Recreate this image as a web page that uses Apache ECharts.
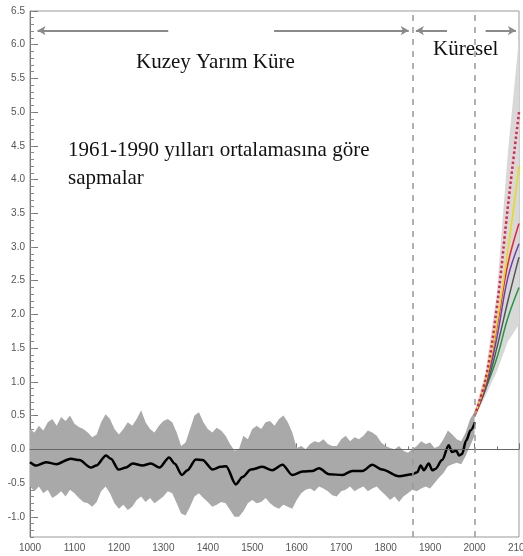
<!DOCTYPE html>
<html>
<head>
<meta charset="utf-8">
<script src="https://cdn.jsdelivr.net/npm/echarts@6/dist/echarts.min.js"></script>
<style>
  html, body { margin: 0; padding: 0; background: #fff; }
  #chart { width: 523px; height: 556px; }
</style>
</head>
<body>
<div id="chart"></div>
<script>
// axis ticks
var xTickLabels = [1000, 1100, 1200, 1300, 1400, 1500, 1600, 1700, 1800, 1900, 2000, 2100];
var yTickLabels = [-1.0, -0.5, 0.0, 0.5, 1.0, 1.5, 2.0, 2.5, 3.0, 3.5, 4.0, 4.5, 5.0, 5.5, 6.0, 6.5];

// proxy + instrumental band (1000..2000, every 10 years)
var bandUpper = [
  0.30, 0.25, 0.35, 0.28, 0.40, 0.45, 0.35, 0.48, 0.42, 0.50,
  0.38, 0.33, 0.30, 0.25, 0.18, 0.22, 0.40, 0.52, 0.45, 0.30,
  0.22, 0.30, 0.40, 0.35, 0.45, 0.58, 0.40, 0.30, 0.25, 0.35,
  0.42, 0.45, 0.40, 0.25, 0.05, 0.10, 0.30, 0.50, 0.55, 0.40,
  0.30, 0.25, 0.32, 0.28, 0.20, 0.08, -0.02, 0.00, 0.20, 0.15,
  0.30, 0.35, 0.30, 0.40, 0.42, 0.35, 0.45, 0.50, 0.40, 0.25,
  0.02, 0.05, 0.00, 0.08, 0.12, 0.10, 0.15, 0.08, 0.05, 0.05,
  0.15, 0.20, 0.12, 0.18, 0.15, 0.20, 0.28, 0.25, 0.20, 0.10,
  0.05, 0.02, 0.00, 0.05, -0.02, -0.05, 0.00, 0.05, 0.12, 0.08,
  0.10, 0.02, 0.05, 0.15, 0.28, 0.22, 0.15, 0.12, 0.25, 0.45,
  0.55
];
var bandLower = [
  -0.55, -0.62, -0.55, -0.65, -0.60, -0.72, -0.68, -0.62, -0.70, -0.60,
  -0.65, -0.72, -0.78, -0.80, -0.85, -0.78, -0.62, -0.55, -0.65, -0.80,
  -0.88, -0.82, -0.90, -0.85, -0.75, -0.70, -0.78, -0.72, -0.80, -0.75,
  -0.70, -0.62, -0.65, -0.80, -0.95, -0.98, -0.85, -0.70, -0.65, -0.72,
  -0.78, -0.85, -0.82, -0.78, -0.80, -0.90, -1.00, -1.00, -0.92, -0.80,
  -0.75, -0.80, -0.78, -0.72, -0.80, -0.85, -0.88, -0.82, -0.85, -0.88,
  -0.75, -0.65, -0.60, -0.58, -0.62, -0.55, -0.58, -0.62, -0.68, -0.70,
  -0.62, -0.60, -0.55, -0.62, -0.58, -0.55, -0.62, -0.58, -0.55, -0.62,
  -0.68, -0.75, -0.70, -0.78, -0.70, -0.65, -0.60, -0.62, -0.58, -0.55,
  -0.58, -0.50, -0.42, -0.35, -0.25, -0.22, -0.20, -0.22, -0.10, 0.05,
  0.20
];
var bandYears = [];
for (var yr = 1000; yr <= 2000; yr += 10) bandYears.push(yr);

// smoothed reconstruction / instrumental mean
var meanYears = [1000, 1014, 1036, 1059, 1092, 1111, 1137, 1149, 1171, 1182, 1199, 1216, 1231, 1253, 1272, 1291,
  1313, 1325, 1342, 1354, 1373, 1388, 1411, 1429, 1441, 1463, 1478, 1497, 1523, 1545, 1568, 1590, 1613, 1635,
  1650, 1673, 1703, 1725, 1748, 1770, 1792, 1830, 1860, 1871, 1879, 1886, 1897, 1905, 1912, 1927, 1942, 1949,
  1959, 1965, 1972, 1981, 1991, 2001];
var meanValues = [-0.19, -0.24, -0.19, -0.22, -0.14, -0.16, -0.27, -0.24, -0.09, -0.14, -0.30, -0.27, -0.21, -0.24, -0.21, -0.27,
  -0.12, -0.21, -0.38, -0.31, -0.15, -0.16, -0.30, -0.26, -0.25, -0.52, -0.41, -0.30, -0.26, -0.31, -0.23, -0.38, -0.33, -0.32,
  -0.28, -0.37, -0.38, -0.32, -0.32, -0.23, -0.30, -0.40, -0.37, -0.34, -0.24, -0.31, -0.21, -0.31, -0.29, -0.16, 0.06, -0.04,
  -0.02, -0.09, -0.07, 0.13, 0.28, 0.40];

// projections 2000..2100
var projYears = [2000, 2025, 2050, 2075, 2100];
var fanUpper = [0.55, 1.15, 2.3, 4.4, 6.1];
var fanLower = [0.45, 0.8, 1.15, 1.6, 1.85];
var projA1FI = [0.5, 1.05, 2.1, 3.6, 5.0];
var projA2 = [0.5, 1.0, 1.85, 2.95, 4.2];
var projA1B = [0.5, 1.0, 1.8, 2.75, 3.35];
var projB2 = [0.5, 0.95, 1.65, 2.55, 3.05];
var projA1T = [0.5, 0.9, 1.5, 2.2, 2.85];
var projB1 = [0.5, 0.9, 1.35, 1.95, 2.4];

// annotations
var dashedYears = [1860, 2000];
var arrowLevel = 6.21;
var arrowSpans = [[1311, 1017], [1549, 1852], [1938, 1868], [2025, 2093]];

var yMinorTicks = [];
for (var t = -13; t <= 65; t++) yMinorTicks.push(t / 10);

function pairs(xs, ys) {
  return xs.map(function (x, i) { return [x, ys[i]]; });
}

function bandSeries(xs, up, low, color) {
  return {
    type: 'custom',
    silent: true,
    data: [[1500, 0]],
    encode: { x: 0, y: 1 },
    z: 1,
    renderItem: function (params, api) {
      var pts = [];
      for (var i = 0; i < xs.length; i++) pts.push(api.coord([xs[i], up[i]]));
      for (var j = xs.length - 1; j >= 0; j--) pts.push(api.coord([xs[j], low[j]]));
      return { type: 'polygon', shape: { points: pts }, style: { fill: color } };
    }
  };
}

function projLine(vals, color, type, width) {
  return {
    type: 'line',
    data: pairs(projYears, vals),
    showSymbol: false,
    smooth: 0.4,
    z: 4,
    lineStyle: { color: color, width: width, type: type }
  };
}

var markLines = [{ yAxis: 0, lineStyle: { color: '#666', width: 1, type: 'solid' } }];
dashedYears.forEach(function (d) {
  markLines.push({ xAxis: d, lineStyle: { color: '#999', width: 1.5, type: [6, 6] } });
});
arrowSpans.forEach(function (s) {
  markLines.push([
    { coord: [s[0], arrowLevel], symbol: 'none', lineStyle: { color: '#8a8a8a', width: 2, type: 'solid' } },
    { coord: [s[1], arrowLevel], symbol: 'arrow', symbolSize: [7, 8] }
  ]);
});

var dom = document.getElementById('chart');
var myChart = echarts.init(dom);
var option = {
  animation: false,
  grid: {
    left: 30, right: 4, top: 11, bottom: 19, show: true, borderColor: '#999', borderWidth: 1,
    outerBoundsMode: 'none', containLabel: false
  },
  xAxis: {
    type: 'value', min: 1000, max: 2100, interval: 100,
    axisLine: { lineStyle: { color: '#777' } },
    axisTick: { inside: true, length: 6, lineStyle: { color: '#777' } },
    minorTick: { show: true, splitNumber: 2, length: 3, lineStyle: { color: '#777' } },
    splitLine: { show: false },
    axisLabel: {
      color: '#555', fontSize: 10, fontFamily: 'Liberation Sans', margin: 6,
      customValues: xTickLabels,
      formatter: function (v) { return String(v); }
    }
  },
  yAxis: [{
    type: 'value', min: -1.3, max: 6.5,
    axisLine: { show: true, lineStyle: { color: '#777' } },
    axisTick: { inside: true, length: 8, customValues: yTickLabels, lineStyle: { color: '#777' } },
    splitLine: { show: false },
    axisLabel: {
      color: '#555', fontSize: 10, fontFamily: 'Liberation Sans', margin: 5,
      customValues: yTickLabels,
      formatter: function (v) { return v.toFixed(1); }
    }
  }, {
    type: 'value', min: -1.3, max: 6.5, position: 'left', offset: 0,
    axisLine: { show: false },
    axisTick: { inside: true, length: 4, customValues: yMinorTicks, lineStyle: { color: '#888' } },
    axisLabel: { show: false },
    splitLine: { show: false }
  }],
  graphic: [
    { type: 'text', left: 136, top: 52, style: { text: 'Kuzey Yarım Küre', font: '21px "Liberation Serif"', fill: '#111' } },
    { type: 'text', left: 433, top: 39, style: { text: 'Küresel', font: '21px "Liberation Serif"', fill: '#111' } },
    { type: 'text', left: 68, top: 140, style: { text: '1961-1990 yılları ortalamasına göre', font: '21px "Liberation Serif"', fill: '#111' } },
    { type: 'text', left: 68, top: 168, style: { text: 'sapmalar', font: '21px "Liberation Serif"', fill: '#111' } }
  ],
  series: [
    bandSeries(projYears, fanUpper, fanLower, '#d8d8d8'),
    bandSeries(bandYears, bandUpper, bandLower, '#a9a9a9'),
    {
      type: 'line',
      data: pairs(meanYears, meanValues),
      showSymbol: false,
      smooth: 0.3,
      smoothMonotone: 'x',
      z: 3,
      lineStyle: { color: '#000', width: 2.5 },
      markLine: { silent: true, symbol: 'none', label: { show: false }, data: markLines }
    },
    projLine(projB1, '#1f9a3c', 'solid', 1.5),
    projLine(projA1T, '#555555', 'solid', 1.5),
    projLine(projB2, '#6b3fb0', 'solid', 1.5),
    projLine(projA1B, '#e8203a', 'solid', 1.5),
    projLine(projA2, '#e6dc10', 'solid', 1.5),
    projLine(projA1FI, '#e8204a', 'dotted', 2.5)
  ]
};
myChart.setOption(option, true);
</script>
</body>
</html>
